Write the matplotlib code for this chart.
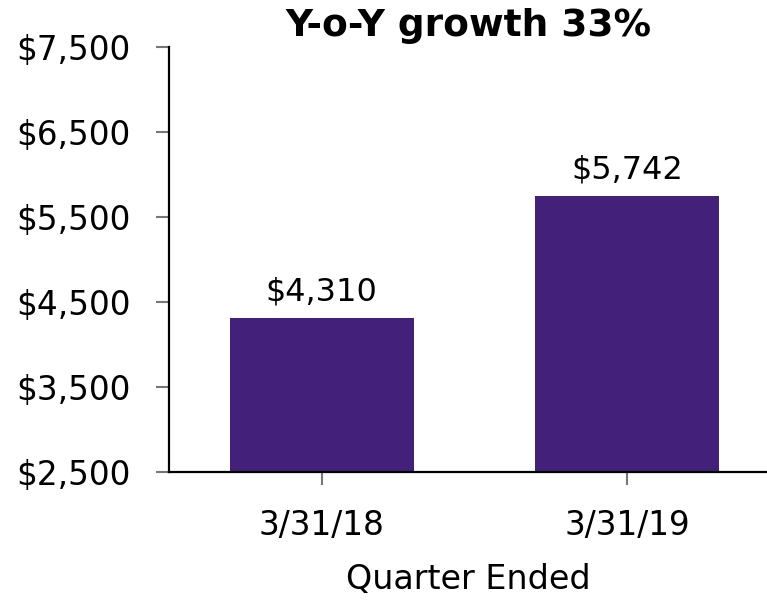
import matplotlib
matplotlib.use("Agg")
import matplotlib.pyplot as plt
from matplotlib.ticker import FuncFormatter

categories = ["3/31/18", "3/31/19"]
values = [4310, 5742]
yticks = [2500, 3500, 4500, 5500, 6500, 7500]
title = "Y-o-Y growth 33%"
xlabel = "Quarter Ended"

plt.rcParams['font.family'] = ['DejaVu Sans']

fig = plt.figure(figsize=(7.67, 6.0), dpi=100)
ax = fig.add_axes([169/767, (600-472)/600, 1 - 169/767, (472-46.7)/600])

x = range(len(categories))
ax.bar(x, values, width=0.603, color="#43217A", zorder=2)
for xi, v in zip(x, values):
    ax.annotate(f"${v:,}", (xi, v), xytext=(0, 7.5), textcoords="offset points",
                ha="center", va="bottom", fontsize=23)

ax.set_xlim(-0.5, 1.459)
ax.set_ylim(2500, 7500)
ax.set_yticks(yticks)
ax.yaxis.set_major_formatter(FuncFormatter(lambda v, p: f"${int(v):,}"))
ax.set_xticks(list(x))
ax.set_xticklabels(categories)
ax.tick_params(axis='both', labelsize=23.5, length=9.5, width=1.5, color="#777777")
ax.tick_params(axis='y', pad=18)
ax.tick_params(axis='x', pad=17)
ax.set_xlabel(xlabel, fontsize=24, labelpad=15)
ax.set_title(title, fontsize=27, fontweight='bold', pad=8)

for s in ['top', 'right']:
    ax.spines[s].set_visible(False)
for s in ['left', 'bottom']:
    ax.spines[s].set_linewidth(1.6)
    ax.spines[s].set_color("black")

fig.savefig("out.png", dpi=100)
